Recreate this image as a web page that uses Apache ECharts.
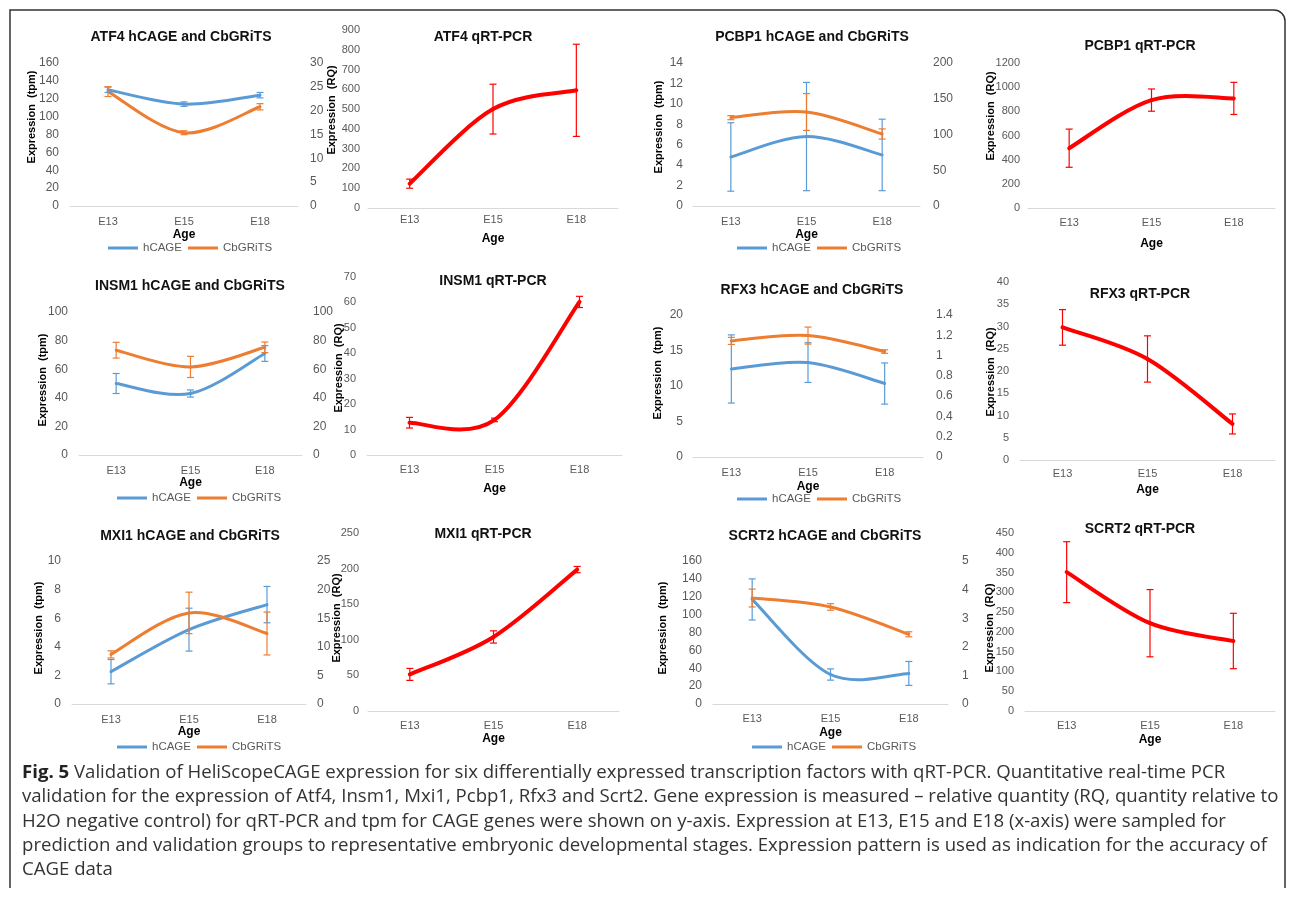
<!DOCTYPE html>
<html><head><meta charset="utf-8">
<script src="https://cdn.jsdelivr.net/npm/echarts@6/dist/echarts.min.js"></script>
<style>html,body{margin:0;padding:0;background:#fff}#c{width:1290px;height:902px}</style>
</head><body><div id="c"></div>
<script>
// ---------- DATA ----------
const categories = ['E13', 'E15', 'E18'];

const atf4_hcage = [130, 114, 124];
const atf4_hcage_err = [3, 2.5, 3];
const atf4_cbgrits = [128, 82, 111];
const atf4_cbgrits_err = [5.5, 2.2, 3.5];
const atf4_qpcr = [123, 500, 595];
const atf4_qpcr_err = [23, 126, 233];

const pcbp1_hcage = [4.8, 6.8, 5.0];
const pcbp1_hcage_err = [3.35, 5.3, 3.5];
const pcbp1_cbgrits = [8.65, 9.2, 7.05];
const pcbp1_cbgrits_err = [0.2, 1.8, 0.5];
const pcbp1_qpcr = [495, 893, 907];
const pcbp1_qpcr_err = [158, 92, 133];

const insm1_hcage = [50, 43, 71];
const insm1_hcage_err = [7, 2.5, 5.5];
const insm1_cbgrits = [73.3, 61.6, 75.3];
const insm1_cbgrits_err = [5.5, 7.4, 3.7];
const insm1_qpcr = [12.7, 13.8, 60.2];
const insm1_qpcr_err = [2.1, 0.7, 2.2];

const rfx3_hcage = [12.4, 13.3, 10.35];
const rfx3_hcage_err = [4.8, 2.8, 2.9];
const rfx3_cbgrits = [16.35, 17.1, 14.85];
const rfx3_cbgrits_err = [0.5, 1.2, 0.25];
const rfx3_qpcr = [29.8, 22.7, 8.1];
const rfx3_qpcr_err = [4, 5.2, 2.25];

const mxi1_hcage = [2.26, 5.2, 6.95];
const mxi1_hcage_err = [0.85, 1.5, 1.27];
const mxi1_cbgrits = [3.47, 6.37, 4.93];
const mxi1_cbgrits_err = [0.25, 1.45, 1.5];
const mxi1_qpcr = [51.4, 104, 198.6];
const mxi1_qpcr_err = [8.4, 8.6, 4.4];

const scrt2_hcage = [117, 33, 34.2];
const scrt2_hcage_err = [23, 6.3, 13.4];
const scrt2_cbgrits = [118.6, 108.6, 78];
const scrt2_cbgrits_err = [10, 3.7, 2.8];
const scrt2_qpcr = [351, 222, 177];
const scrt2_qpcr_err = [77, 85, 70];

const captionLines = [
  'Validation of HeliScopeCAGE expression for six differentially expressed transcription factors with qRT-PCR. Quantitative real-time PCR',
  'validation for the expression of Atf4, Insm1, Mxi1, Pcbp1, Rfx3 and Scrt2. Gene expression is measured \u2013 relative quantity (RQ, quantity relative to',
  'H2O negative control) for qRT-PCR and tpm for CAGE genes were shown on y-axis. Expression at E13, E15 and E18 (x-axis) were sampled for',
  'prediction and validation groups to representative embryonic developmental stages. Expression pattern is used as indication for the accuracy of',
  'CAGE data'
];

// ---------- LAYOUT / STYLE ----------
const BLUE = '#5B9BD5', ORANGE = '#ED7D31', RED = '#FF0000';
const FONT = '"Liberation Sans", Arial, sans-serif';
const LABEL_C = '#595959';

const panels = [
  {kind:'cage', title:'ATF4 hCAGE and CbGRiTS', g:[70,63,298,206], t:[181,30], yn:[32,117], lm:11, yMax:160, yInt:20, rMax:30, rInt:5, rm:12, xm:10, ag:23, lg:[108,249],
   h:atf4_hcage, hE:atf4_hcage_err, c:atf4_cbgrits, cE:atf4_cbgrits_err},
  {kind:'q', title:'ATF4 qRT-PCR', g:[368,30,618,208], t:[483,30], yn:[332,110], lm:8, yMax:900, yInt:100, xm:6, ag:25,
   q:atf4_qpcr, qE:atf4_qpcr_err},
  {kind:'cage', title:'PCBP1 hCAGE and CbGRiTS', g:[693,63,920,206], t:[812,30], yn:[659,127], lm:10, yMax:14, yInt:2, rMax:200, rInt:50, rm:13, xm:10, ag:23, lg:[737,249],
   h:pcbp1_hcage, hE:pcbp1_hcage_err, c:pcbp1_cbgrits, cE:pcbp1_cbgrits_err},
  {kind:'q', title:'PCBP1 qRT-PCR', g:[1028,63,1275,208], t:[1140,39], yn:[991,116], lm:8, yMax:1200, yInt:200, xm:9, ag:30,
   q:pcbp1_qpcr, qE:pcbp1_qpcr_err},
  {kind:'cage', title:'INSM1 hCAGE and CbGRiTS', g:[79,312,302,455], t:[190,279], yn:[43,380], lm:11, yMax:100, yInt:20, rMax:100, rInt:20, rm:11, xm:10, ag:21, lg:[117,499],
   h:insm1_hcage, hE:insm1_hcage_err, c:insm1_cbgrits, cE:insm1_cbgrits_err},
  {kind:'q', title:'INSM1 qRT-PCR', g:[367,277,622,455], t:[493,274], yn:[339,368], lm:11, yMax:70, yInt:10, xm:9, ag:28,
   q:insm1_qpcr, qE:insm1_qpcr_err},
  {kind:'cage', title:'RFX3 hCAGE and CbGRiTS', g:[693,315,923,457], t:[812,283], yn:[658,373], lm:10, yMax:20, yInt:5, rMax:1.4, rInt:0.2, rm:13, xm:10, ag:24, lg:[737,500],
   h:rfx3_hcage, hE:rfx3_hcage_err, c:rfx3_cbgrits, cE:rfx3_cbgrits_err},
  {kind:'q', title:'RFX3 qRT-PCR', g:[1020,282,1275,460], t:[1140,287], yn:[991,372], lm:11, yMax:40, yInt:5, xm:8, ag:24,
   q:rfx3_qpcr, qE:rfx3_qpcr_err},
  {kind:'cage', title:'MXI1 hCAGE and CbGRiTS', g:[72,561,306,704], t:[190,529], yn:[39,628], lm:11, yMax:10, yInt:2, rMax:25, rInt:5, rm:11, xm:10, ag:22, lg:[117,748],
   h:mxi1_hcage, hE:mxi1_hcage_err, c:mxi1_cbgrits, cE:mxi1_cbgrits_err},
  {kind:'q', title:'MXI1 qRT-PCR', g:[368,533,619,711], t:[483,527], yn:[337,618], lm:9, yMax:250, yInt:50, xm:9, ag:22,
   q:mxi1_qpcr, qE:mxi1_qpcr_err},
  {kind:'cage', title:'SCRT2 hCAGE and CbGRiTS', g:[713,561,948,704], t:[825,529], yn:[663,628], lm:11, yMax:160, yInt:20, rMax:5, rInt:1, rm:14, xm:9, ag:23, lg:[752,748],
   h:scrt2_hcage, hE:scrt2_hcage_err, c:scrt2_cbgrits, cE:scrt2_cbgrits_err},
  {kind:'q', title:'SCRT2 qRT-PCR', g:[1025,533,1275,711], t:[1140,522], yn:[990,628], lm:11, yMax:450, yInt:50, xm:9, ag:23,
   q:scrt2_qpcr, qE:scrt2_qpcr_err}
];

// ---------- RENDERERS ----------
function curveSeries(name, vals, color, width, xi, yi) {
  return {
    type: 'custom', name: name, xAxisIndex: xi, yAxisIndex: yi, z: 2,
    itemStyle: {color: color},
    encode: {x: 0, y: 1},
    data: vals.map((v, i) => [i, v]),
    renderItem: function (params, api) {
      const i = params.dataIndexInside;
      const n = params.dataInsideLength;
      if (i === 0) return null;
      const P = k => api.coord([api.value(0, k), api.value(1, k)]);
      const p1 = P(i - 1), p2 = P(i);
      const p0 = i - 2 >= 0 ? P(i - 2) : p1;
      const p3 = i + 1 < n ? P(i + 1) : p2;
      const t = 1 / 6;
      return {
        type: 'bezierCurve',
        shape: {
          x1: p1[0], y1: p1[1],
          cpx1: p1[0] + (p2[0] - p0[0]) * t, cpy1: p1[1] + (p2[1] - p0[1]) * t,
          cpx2: p2[0] - (p3[0] - p1[0]) * t, cpy2: p2[1] - (p3[1] - p1[1]) * t,
          x2: p2[0], y2: p2[1]
        },
        style: {stroke: color, lineWidth: width, fill: 'none', lineCap: 'round'}
      };
    }
  };
}

function errSeries(name, vals, errs, color, xi, yi) {
  return {
    type: 'custom', name: name + ' err', xAxisIndex: xi, yAxisIndex: yi, z: 3,
    encode: {x: 0, y: [1, 2]},
    data: vals.map((v, i) => [i, v - errs[i], v + errs[i]]),
    renderItem: function (params, api) {
      const x = api.value(0);
      const a = api.coord([x, api.value(2)]);
      const b = api.coord([x, api.value(1)]);
      const hw = 3.5;
      const st = {stroke: color, lineWidth: 1.2};
      return {type: 'group', children: [
        {type: 'line', shape: {x1: a[0], y1: a[1], x2: b[0], y2: b[1]}, style: st},
        {type: 'line', shape: {x1: a[0] - hw, y1: a[1], x2: a[0] + hw, y2: a[1]}, style: st},
        {type: 'line', shape: {x1: b[0] - hw, y1: b[1], x2: b[0] + hw, y2: b[1]}, style: st}
      ]};
    }
  };
}

const numFmt = v => String(parseFloat(Number(v).toFixed(4)));

// ---------- BUILD OPTION ----------
const grid = [], xAxis = [], yAxis = [], series = [], title = [], legend = [], graphic = [];

panels.forEach((p, gi) => {
  const cage = p.kind === 'cage';
  grid.push({left: p.g[0], top: p.g[1], width: p.g[2] - p.g[0], height: p.g[3] - p.g[1], outerBoundsMode: 'none', containLabel: false});
  xAxis.push({
    type: 'category', gridIndex: gi, data: categories, boundaryGap: true,
    axisLine: {lineStyle: {color: '#D9D9D9', width: 1}},
    axisTick: {show: false},
    axisLabel: {color: LABEL_C, fontSize: 11, margin: p.xm, fontFamily: FONT},
    name: 'Age', nameLocation: 'middle', nameGap: p.ag,
    nameTextStyle: {fontWeight: 'bold', fontSize: 12, color: '#000', fontFamily: FONT}
  });
  const yi = yAxis.length;
  yAxis.push({
    type: 'value', gridIndex: gi, min: 0, max: p.yMax, interval: p.yInt,
    axisLine: {show: false}, axisTick: {show: false}, splitLine: {show: false},
    axisLabel: {color: LABEL_C, fontSize: cage ? 12 : 11, margin: p.lm, fontFamily: FONT, formatter: numFmt}
  });
  if (cage) {
    yAxis.push({
      type: 'value', gridIndex: gi, position: 'right', min: 0, max: p.rMax, interval: p.rInt,
      axisLine: {show: false}, axisTick: {show: false}, splitLine: {show: false},
      axisLabel: {color: LABEL_C, fontSize: 12, margin: p.rm, fontFamily: FONT, formatter: numFmt}
    });
    series.push(curveSeries('hCAGE', p.h, BLUE, 3, gi, yi));
    series.push(curveSeries('CbGRiTS', p.c, ORANGE, 3, gi, yi));
    series.push(errSeries('hCAGE', p.h, p.hE, BLUE, gi, yi));
    series.push(errSeries('CbGRiTS', p.c, p.cE, ORANGE, gi, yi));
    legend.push({
      left: p.lg[0], top: p.lg[1] - 7, padding: 0, itemGap: 6, itemWidth: 30, itemHeight: 3,
      icon: 'rect', selectedMode: false,
      textStyle: {color: LABEL_C, fontSize: 11.5, fontFamily: FONT},
      data: [{name: 'hCAGE', itemStyle: {color: BLUE}}, {name: 'CbGRiTS', itemStyle: {color: ORANGE}}]
    });
  } else {
    series.push(curveSeries('qRT-PCR', p.q, RED, 4, gi, yi));
    series.push(errSeries('qRT-PCR', p.q, p.qE, RED, gi, yi));
  }
  title.push({
    text: p.title, left: p.t[0], top: p.t[1], textAlign: 'center', padding: 0,
    textStyle: {fontWeight: 'bold', fontSize: 14, color: '#111', fontFamily: FONT}
  });
  graphic.push({
    type: 'text', x: p.yn[0], y: p.yn[1], rotation: Math.PI / 2,
    style: {text: cage ? 'Expression  (tpm)' : 'Expression  (RQ)', align: 'center', verticalAlign: 'middle',
            fontSize: 11, fontWeight: 'bold', fontFamily: FONT, fill: '#000'}
  });
});

// caption
const capTop = [773, 797, 822, 846, 870];
const CAP_FONT = '"Open Sans", sans-serif';
captionLines.forEach((line, i) => {
  graphic.push({
    type: 'text', x: 22, y: capTop[i],
    style: {
      text: i === 0 ? '{b|Fig. 5} ' + line : line,
      verticalAlign: 'middle', align: 'left',
      fontSize: 18.6, fontFamily: CAP_FONT, fill: '#333',
      rich: {b: {fontWeight: 'bold', fontSize: 18.6, fontFamily: CAP_FONT, fill: '#222'}}
    }
  });
});

// frame
const FRAME = {stroke: '#333', lineWidth: 1.5, fill: 'none'};
graphic.push({type: 'polyline', silent: true, shape: {points: [[10, 888], [10, 10], [1274, 10]]}, style: FRAME});
graphic.push({type: 'bezierCurve', silent: true, shape: {x1: 1274, y1: 10, cpx1: 1280, cpy1: 10, cpx2: 1285, cpy2: 15, x2: 1285, y2: 21}, style: FRAME});
graphic.push({type: 'line', silent: true, shape: {x1: 1285, y1: 21, x2: 1285, y2: 888}, style: FRAME});

const chart = echarts.init(document.getElementById('c'), null, {renderer: 'canvas', width: 1290, height: 902});
chart.setOption({
  animation: false,
  textStyle: {fontFamily: FONT},
  grid, xAxis, yAxis, series, title, legend, graphic
});
</script>
</body></html>
